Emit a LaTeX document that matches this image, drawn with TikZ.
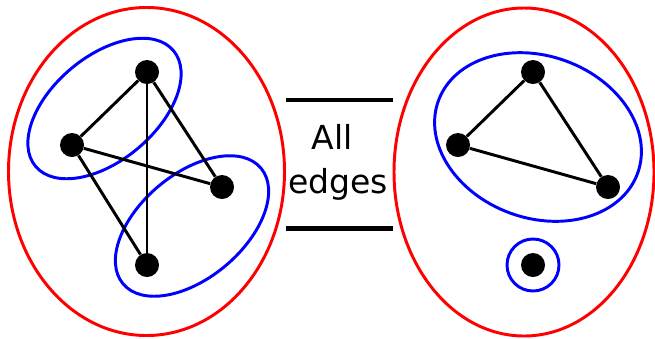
\documentclass[tikz,border=0pt]{standalone}
\usepackage{fontspec}
\setmainfont{DejaVu Sans}
\begin{document}
\begin{tikzpicture}[x=0.025cm,y=-0.025cm,
    vertex/.style={circle,fill=black,inner sep=0pt,minimum size=0.6cm},
    edge/.style={black,line width=2.1pt},
    group/.style={red,line width=2.1pt},
    part/.style={blue,line width=2.1pt},
    bar/.style={black,line width=3.5pt},
    label/.style={font=\fontsize{23.5}{28}\selectfont,inner sep=0pt,anchor=base}]
    \useasboundingbox (0,0) rectangle (655,338);
    % Left graph
    \draw[group] (146.5,171.5) ellipse [x radius=138, y radius=164];
    \draw[part,rotate around={40:(104.5,108.5)}] (104.5,108.5) ellipse [x radius=90, y radius=52];
    \draw[part,rotate around={40:(192,226)}] (192,226) ellipse [x radius=90, y radius=52];
    \node[vertex] (a) at (147,72) {};
    \node[vertex] (b) at (72,145) {};
    \node[vertex] (c) at (222,187) {};
    \node[vertex] (d) at (147,265) {};
    \draw[edge] (a) -- (b);
    \draw[edge] (a) -- (c);
    \draw[edge] (a) -- (d);
    \draw[edge] (b) -- (c);
    \draw[edge] (b) -- (d);
    % Middle label
    \coordinate (t1) at (286,100);
    \coordinate (t2) at (393,100);
    \coordinate (b1) at (286,228.5);
    \coordinate (b2) at (393,228.5);
    \draw[bar] (t1) -- (t2);
    \draw[bar] (b1) -- (b2);
    \node[label] (all) at (332,149.5) {All};
    \node[label] (edges) at (338,193) {edges};
    % Right graph
    \draw[group] (524,172) ellipse [x radius=130, y radius=164];
    \draw[part,rotate around={-20:(538,137)}] (538,137) ellipse [x radius=106, y radius=81];
    \draw[part] (533,265) circle [radius=26];
    \node[vertex] (e) at (533,72) {};
    \node[vertex] (f) at (458,145) {};
    \node[vertex] (g) at (608,187) {};
    \node[vertex] (h) at (533,265) {};
    \draw[edge] (e) -- (f);
    \draw[edge] (e) -- (g);
    \draw[edge] (f) -- (g);
\end{tikzpicture}
\end{document}
